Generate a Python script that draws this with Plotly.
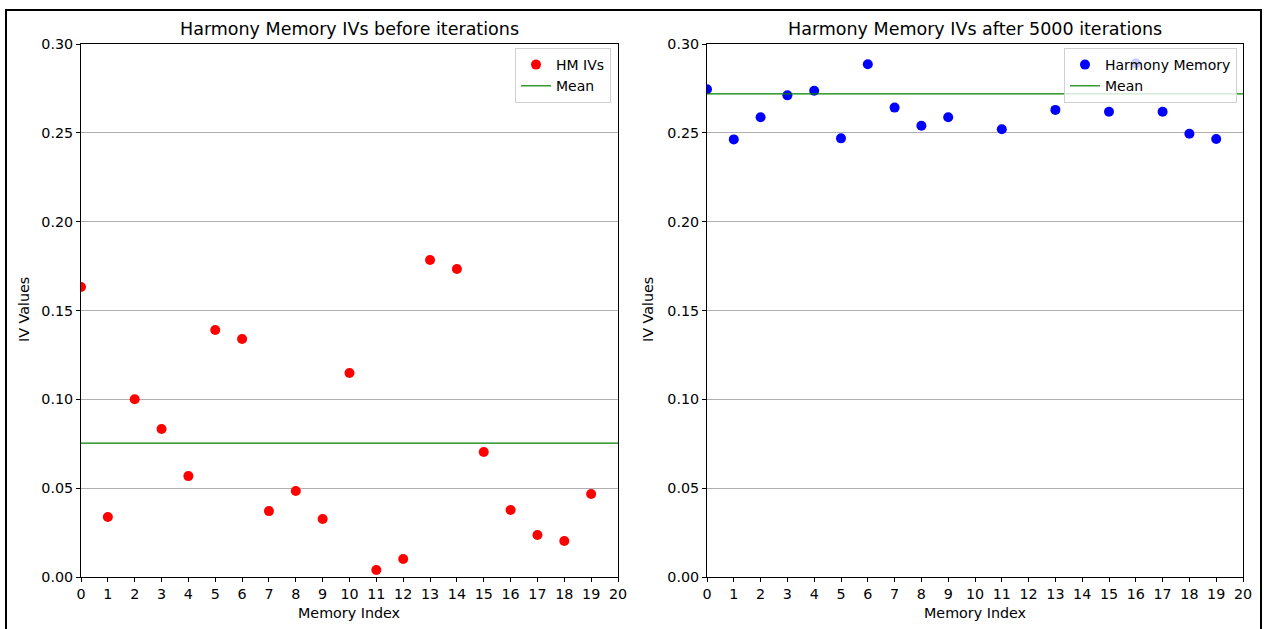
import plotly.graph_objects as go

W, H = 1264, 629

memory_index = list(range(20))
iv_before = [0.1632, 0.0338, 0.1000, 0.0833, 0.0568, 0.1390, 0.1340, 0.0371, 0.0484, 0.0326,
             0.1148, 0.0039, 0.0101, 0.1784, 0.1734, 0.0704, 0.0377, 0.0236, 0.0203, 0.0467]
mean_before = 0.0754
iv_after = [0.2745, 0.2463, 0.2588, 0.2711, 0.2737, 0.2469, 0.2886, 0.2642, 0.2540, 0.2588,
            None, 0.2520, None, 0.2629, None, 0.2619, 0.2891, 0.2619, 0.2495, 0.2465]
mean_after = 0.2719
x_span = [0, 20]
x_ticks = list(range(21))
y_ticks = [0.00, 0.05, 0.10, 0.15, 0.20, 0.25, 0.30]
titles = ["Harmony Memory IVs before iterations", "Harmony Memory IVs after 5000 iterations"]

FONT = "DejaVu Sans"
TICK = 14.3

def px(x):
    return x / W

def py(y):
    return 1 - y / H

fig = go.Figure()

fig.add_trace(go.Scatter(x=memory_index, y=iv_before, mode="markers", name="HM IVs",
                         marker=dict(color="#ff0000", size=10), xaxis="x", yaxis="y",
                         legend="legend"))
fig.add_trace(go.Scatter(x=x_span, y=[mean_before] * 2, mode="lines", name="Mean",
                         line=dict(color="#008000", width=1.2), xaxis="x", yaxis="y",
                         legend="legend"))
fig.add_trace(go.Scatter(x=memory_index, y=iv_after, mode="markers", name="Harmony Memory",
                         marker=dict(color="#0000ff", size=10), xaxis="x2", yaxis="y2",
                         legend="legend2"))
fig.add_trace(go.Scatter(x=x_span, y=[mean_after] * 2, mode="lines", name="Mean",
                         line=dict(color="#008000", width=1.2), xaxis="x2", yaxis="y2",
                         legend="legend2"))

xcommon = dict(range=x_span, tickmode="array", tickvals=x_ticks, ticktext=[str(t) for t in x_ticks],
               showgrid=False, zeroline=False, showline=True, linecolor="black", linewidth=1,
               mirror=True, ticks="outside", ticklen=4, tickcolor="black",
               tickfont=dict(family=FONT, size=TICK, color="black"), automargin=False)
ycommon = dict(range=[0, 0.30], tickmode="array", tickvals=y_ticks,
               ticktext=[f"{v:.2f}" for v in y_ticks],
               showgrid=True, gridcolor="#b0b0b0", gridwidth=1, zeroline=False,
               showline=True, linecolor="black", linewidth=1, mirror=True,
               ticks="outside", ticklen=4, tickcolor="black",
               tickfont=dict(family=FONT, size=TICK, color="black"), automargin=False)

ydom = [py(577), py(44)]
fig.update_layout(
    width=W, height=H,
    margin=dict(l=0, r=0, t=0, b=0),
    paper_bgcolor="white", plot_bgcolor="white",
    font=dict(family=FONT, size=TICK, color="black"),
    xaxis=dict(domain=[px(81), px(618)], anchor="y", **xcommon),
    yaxis=dict(domain=ydom, anchor="x", **ycommon),
    xaxis2=dict(domain=[px(707), px(1243)], anchor="y2", **xcommon),
    yaxis2=dict(domain=ydom, anchor="x2", **ycommon),
    legend=dict(x=px(611), y=py(48), xanchor="right", yanchor="top",
                bgcolor="rgba(255,255,255,0.8)", bordercolor="#d0d0d0", borderwidth=1,
                font=dict(family=FONT, size=14, color="black")),
    legend2=dict(x=px(1237), y=py(48), xanchor="right", yanchor="top",
                 bgcolor="rgba(255,255,255,0.8)", bordercolor="#d0d0d0", borderwidth=1,
                 font=dict(family=FONT, size=14, color="black")),
    showlegend=True,
)

annotations = []
for t, cx in zip(titles, [349.5, 975]):
    annotations.append(dict(text=t, x=px(cx), y=py(29), xref="paper", yref="paper",
                            showarrow=False, xanchor="center", yanchor="middle",
                            font=dict(family=FONT, size=17.5, color="black")))
for cx in [349.5, 975]:
    annotations.append(dict(text="Memory Index", x=px(cx), y=py(613), xref="paper", yref="paper",
                            showarrow=False, xanchor="center", yanchor="middle",
                            font=dict(family=FONT, size=TICK, color="black")))
for cx in [24, 648]:
    annotations.append(dict(text="IV Values", x=px(cx), y=py(310), xref="paper", yref="paper",
                            showarrow=False, xanchor="center", yanchor="middle", textangle=-90,
                            font=dict(family=FONT, size=TICK, color="black")))
fig.update_layout(annotations=annotations)

fig.add_shape(type="rect", xref="paper", yref="paper",
              x0=px(6), x1=px(1261), y0=-0.1, y1=py(10),
              line=dict(color="black", width=2), fillcolor="rgba(0,0,0,0)", layer="above")

fig.write_html("out.html", config={"displayModeBar": False},
               post_script="document.body.style.margin='0';document.body.style.overflow='hidden';")
